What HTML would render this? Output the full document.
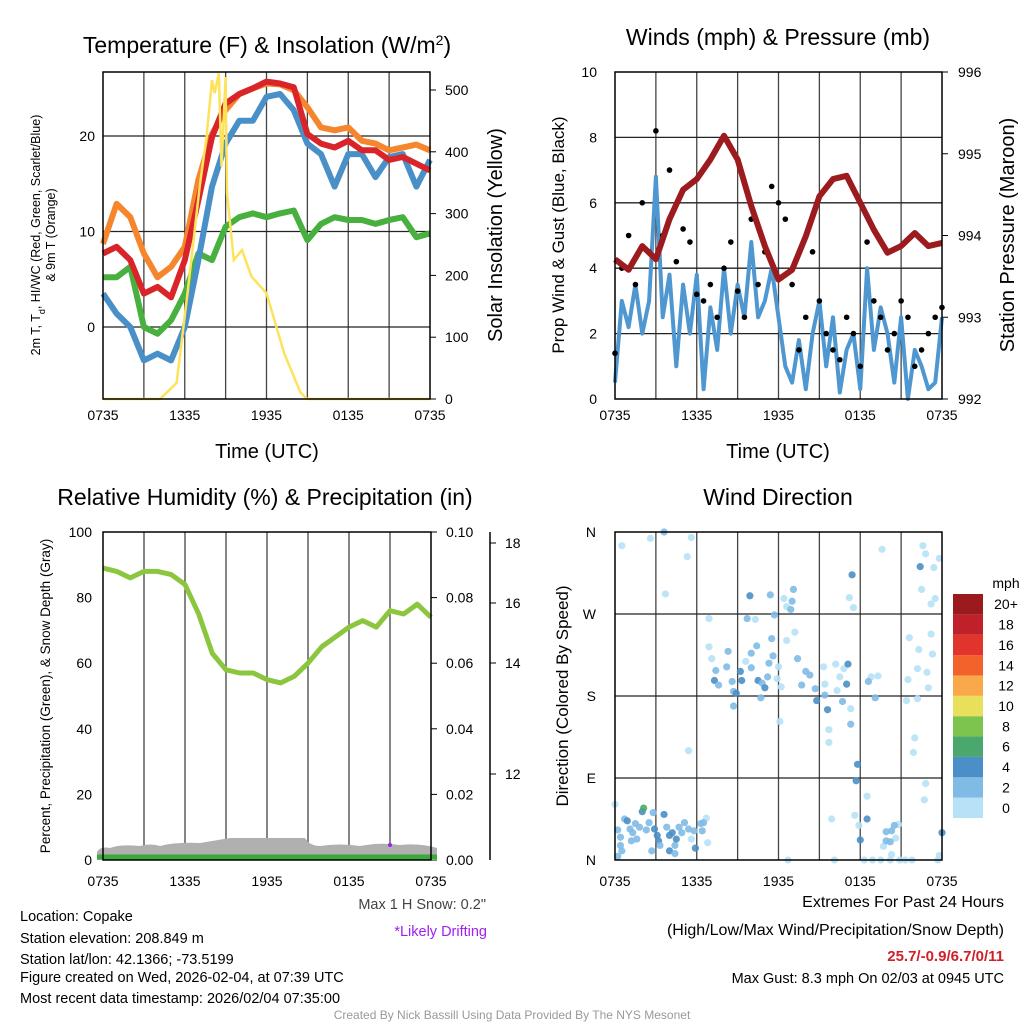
<!DOCTYPE html>
<html><head><meta charset="utf-8"><style>
body{margin:0;background:#fff}
svg{display:block;font-family:"Liberation Sans",Arial,sans-serif}
</style></head><body>
<svg id="c" width="1024" height="1024" viewBox="0 0 1024 1024"></svg>
<script>
// ---------- data ----------
const hours = [0,1,2,3,4,5,6,7,8,9,10,11,12,13,14,15,16,17,18,19,20,21,22,23,24];
const tempRed = [7.7,8.4,7.0,3.5,4.2,3.1,7.0,13.3,19.9,23.4,24.4,25.0,25.7,25.5,25.1,20.2,19.2,18.8,19.5,18.5,18.5,17.5,17.8,17.1,16.4];
const tempOrange = [8.7,12.9,11.5,7.7,5.2,6.3,8.4,15.4,20.2,22.7,24.4,25.0,25.5,25.4,24.8,23.0,20.9,20.6,20.9,19.5,19.2,18.5,18.8,19.1,18.5];
const tempBlue = [3.5,1.4,0,-3.5,-2.8,-3.5,0,7.0,14.7,19.2,21.6,21.6,24.1,24.4,22.7,19.2,18.1,14.7,18.1,18.1,15.7,17.8,18.1,14.7,17.5];
const tempGreen = [5.2,5.2,6.3,0,-0.7,0.7,3.5,7.7,7.0,10.5,11.5,11.9,11.5,11.9,12.2,9.1,10.8,11.5,11.2,11.2,10.8,11.2,11.5,9.4,9.8];
const solarHours = [0,4.2,5.4,6.2,7.1,7.6,8.0,8.2,8.5,8.7,9.0,9.1,9.6,10.2,10.9,12.0,13.3,14.5,15.0,24];
const solarVals = [0,0,26,171,344,425,516,495,527,376,521,333,225,241,198,171,74,10,0,0];
const halfHours = [0,0.5,1,1.5,2,2.5,3,3.5,4,4.5,5,5.5,6,6.5,7,7.5,8,8.5,9,9.5,10,10.5,11,11.5,12,12.5,13,13.5,14,14.5,15,15.5,16,16.5,17,17.5,18,18.5,19,19.5,20,20.5,21,21.5,22,22.5,23,23.5,24];
const windSpeed = [0.5,3.0,2.2,3.5,2.0,3.0,6.8,2.5,3.8,1.0,3.5,2.0,3.8,0.3,2.8,1.5,4.0,2.0,3.5,2.5,4.8,2.5,3.0,4.0,2.5,1.0,0.5,1.8,0.3,2.0,3.0,1.0,2.5,0.2,1.5,2.0,0.3,4.0,1.5,2.8,2.0,0.5,2.5,0.0,1.5,1.0,0.3,0.5,2.5];
const windGust = [1.4,4.0,5.0,3.5,6.0,4.5,8.2,5.0,7.0,4.2,5.2,4.8,3.2,3.0,3.5,2.5,4.0,4.8,3.3,2.5,5.5,3.5,4.5,6.5,6.0,5.5,3.5,1.5,2.5,4.5,3.0,2.0,1.5,1.2,2.5,2.0,1.0,4.8,3.0,2.5,1.5,2.0,3.0,2.5,1.0,1.5,2.0,2.5,2.8];
const pressure = [993.71,993.58,993.87,993.71,994.2,994.56,994.69,994.93,995.22,994.93,994.36,993.87,993.46,993.58,993.99,994.48,994.69,994.73,994.4,994.07,993.79,993.87,994.03,993.87,993.91];
const rh = [89,88,86,88,88,87,84,75,63,58,57,57,55,54,56,60,65,68,71,73,71,76,75,78,74];
const dirHours = [0.5,2.6,3.6,5.6,5.3,3.7,5.4,6.9,6.9,7.1,0,6.7,6.8,5.6,12.4,12.6,10.3,13.2,12.6,12.0,11.9,12.2,9.6,12.1,12.7,16.1,15.3,15.4,16.2,16.5,16.8,16.3,17.3,15.7,15.7,15.9,17.6,17.9,18.5,19.6,17.2,17.5,18.8,19.3,18.3,18.9,19.5,20.2,20.3,19.7,20.6,20.8,20.9,21.3,21.8,22.6,22.8,23.8,23.4,22.5,23.5,23.2,21.6,23.2,22.3,23.3,22.2,22.9,21.5,23.0,21.4,22.2,22.0,21.9,22.8,22.7,23.7,23.8,
9.7,9.9,11.4,11.7,13.0,13.1,12.9,11.5,10.4,10.0,10.0,11.3,11.6,8.3,7.4,7.3,7.6,8.2,8.6,8.7,8.9,9.2,9.3,10.5,10.8,11.0,10.7,11.2,8.7,13.4,14.0,14.3,14.7,13.7,14.8,15.4,15.6,16.7,17.1,17.0,17.3,17.4,17.8,17.7,18.6,19.1,18.5,18.0,19.9,20.3,20.5,19.9,20.2,22.4,24.0,
0.2,0.4,0.4,0.5,0.2,0.7,0.9,1.1,1.3,1.5,1.6,1.8,2.0,2.1,2.3,2.5,2.8,2.9,3.1,3.2,3.3,2.7,3.6,3.8,4.0,4.2,4.0,4.4,4.5,4.7,4.9,5.1,5.4,5.8,5.9,6.3,6.4,6.5,4.4,1.2];
const dirDegrees = [345,353,360,354,333,292,120,265,234,221,61,46,19,23,287,278,264,250,241,212,199,190,218,152,0,0,212,193,215,201,210,186,166,143,129,45,49,38,70,341,288,277,201,202,0,0,0,0,6,15,24,39,0,0,0,345,336,331,321,297,287,281,244,248,231,226,210,206,198,189,175,177,134,118,84,66,0,5,
265,290,291,269,284,297,275,243,235,227,211,216,224,229,208,197,192,212,196,185,183,207,197,197,194,189,178,201,169,221,207,203,188,192,175,181,165,174,215,193,149,313,105,87,196,178,45,22,31,32,38,21,20,322,30,
33,25,16,10,4,45,43,34,30,40,23,36,53,57,33,41,52,34,27,21,16,10,50,36,27,30,10,16,23,36,30,41,34,32,13,40,32,41,7,21];
const dirSpeeds = [1,1,3,1,1,1,1,1,1,1,1,1,1,1,1,1,1,1,1,1,1,1,1,1,1,1,1,1,1,1,1,1,1,1,1,1,1,1,1,1,1,1,1,1,1,1,1,1,1,1,1,1,1,1,1,1,1,1,1,1,1,1,1,1,1,1,1,1,1,1,1,1,1,1,1,1,1,1,
3,5,3,3,3,3,3,3,3,3,3,3,3,3,3,5,3,3,3,3,5,5,5,5,3,5,3,3,3,3,3,3,3,3,5,3,5,3,5,5,3,5,5,5,3,3,5,5,3,3,3,3,3,5,5,
3,3,3,3,3,3,5,3,3,3,3,3,5,7,3,3,3,5,5,5,3,3,5,3,5,5,5,3,5,3,3,3,3,3,5,3,3,3,3,3];
const speedBins = ['0','2','4','6','8','10','12','14','16','18','20+'];
const speedColors = ['#b7e1f7','#7fbbe5','#4a8fc7','#4aa86e','#7cc44e','#e8e05a','#f9a84a','#f2622b','#e0342c','#c0202a','#9b1a1d'];

// ---------- helpers ----------
const svg = document.getElementById('c');
const NS = 'http://www.w3.org/2000/svg';
function mk(tag, attrs, parent){const e=document.createElementNS(NS,tag);for(const k in attrs)e.setAttribute(k,attrs[k]);(parent||svg).appendChild(e);return e;}
function txt(s,x,y,size,anchor,extra){const t=mk('text',Object.assign({x:x,y:y,'font-size':size,'text-anchor':anchor||'middle',fill:'#000'},extra||{}));t.textContent=s;return t;}
function scale(d0,d1,r0,r1){return v=>r0+(v-d0)*(r1-r0)/(d1-d0);}
function linePath(xs,ys,fx,fy){return xs.map((x,i)=>(i?'L':'M')+fx(x).toFixed(1)+','+fy(ys[i]).toFixed(1)).join('');}
function frame(x0,y0,x1,y1,name){
  const g=mk('g',{});
  
  
  for(let h=3;h<24;h+=3){const x=x0+(x1-x0)*h/24;mk('line',{x1:x,y1:y0,x2:x,y2:y1,stroke:'#444','stroke-width':1.3},g);}
  return g;
}
function box(x0,y0,x1,y1,name){const r=mk('rect',{x:x0,y:y0,width:x1-x0,height:y1-y0,fill:'none',stroke:'#000','stroke-width':1.5});}
function hgrid(y,x0,x1){mk('line',{x1:x0,y1:y,x2:x1,y2:y,stroke:'#222','stroke-width':1.3});}
function xlabels(x0,x1,y){['0735','1335','1935','0135','0735'].forEach((s,i)=>{const t=txt(s,x0+(x1-x0)*i/4,y,14);});}

// ---------- panel 1: temperature ----------
(function(){
  const X0=103,X1=430,Y0=72,Y1=399;
  const fx=scale(0,24,X0,X1), fy=scale(0,10,327,231.5), fs=scale(0,500,399,90);
  frame(X0,Y0,X1,Y1,'temperature');
  [0,10,20].forEach(v=>{hgrid(fy(v),X0,X1);const t=txt(String(v),95,fy(v)+5,14,'end');});
  [0,100,200,300,400,500].forEach(v=>{mk('line',{x1:X1,y1:fs(v),x2:X1+6,y2:fs(v),stroke:'#000'});const t=txt(String(v),445,fs(v)+5,14,'start');});
  const series=[['temp-orange-9m',tempOrange,'#f5862e'],['temp-green-dewpoint',tempGreen,'#47b03f'],['temp-blue-windchill',tempBlue,'#4a90c8'],['temp-red-2m',tempRed,'#d9252a']];
  series.forEach(s=>{const p=mk('path',{d:linePath(hours,s[1],fx,fy),fill:'none',stroke:s[2],'stroke-width':6,'stroke-linejoin':'round'});});
  const sp=mk('path',{d:linePath(solarHours,solarVals,fx,fs),fill:'none',stroke:'#fde35c','stroke-width':2.5});
  
  box(X0,Y0,X1,Y1,'temperature');
  xlabels(X0,X1,420);
  let t=txt('Time (UTC)',267,458,20);
  t=mk('text',{x:267,y:53,'font-size':23,'text-anchor':'middle'});t.innerHTML='Temperature (F) &amp; Insolation (W/m<tspan baseline-shift="super" font-size="14">2</tspan>)';
  
  t=mk('text',{transform:'translate(40,235) rotate(-90)','font-size':12.5,'text-anchor':'middle'});t.innerHTML='2m T, T<tspan baseline-shift="sub" font-size="9">d</tspan>, HI/WC (Red, Green, Scarlet/Blue)';
  
  t=mk('text',{transform:'translate(55,235) rotate(-90)','font-size':12.5,'text-anchor':'middle'});t.textContent='& 9m T (Orange)';
  
  t=mk('text',{transform:'translate(502,235) rotate(-90)','font-size':20,'text-anchor':'middle'});t.textContent='Solar Insolation (Yellow)';
  
})();

// ---------- panel 2: winds ----------
(function(){
  const X0=615,X1=942,Y0=72,Y1=399;
  const fx=scale(0,24,X0,X1), fy=scale(0,10,Y1,Y0), fp=scale(992,996,Y1,Y0);
  frame(X0,Y0,X1,Y1,'winds');
  [0,2,4,6,8,10].forEach(v=>{if(v>0&&v<10)hgrid(fy(v),X0,X1);const t=txt(String(v),597,fy(v)+5,14,'end');});
  [992,993,994,995,996].forEach(v=>{mk('line',{x1:X1,y1:fp(v),x2:X1+6,y2:fp(v),stroke:'#000'});const t=txt(String(v),958,fp(v)+5,14,'start');});
  const wp=mk('path',{d:linePath(halfHours,windSpeed,fx,fy),fill:'none',stroke:'#4f97d0','stroke-width':4,'stroke-linejoin':'round'});
  
  halfHours.forEach((h,i)=>{const c=mk('circle',{cx:fx(h),cy:fy(windGust[i]),r:2.8,fill:'#000'});});
  const pp=mk('path',{d:linePath(hours,pressure,fx,fp),fill:'none',stroke:'#9b1b1f','stroke-width':6,'stroke-linejoin':'round'});
  
  box(X0,Y0,X1,Y1,'winds');
  xlabels(X0,X1,420);
  let t=txt('Time (UTC)',778,458,20);
  t=txt('Winds (mph) & Pressure (mb)',778,45,23);
  t=mk('text',{transform:'translate(564,235) rotate(-90)','font-size':17,'text-anchor':'middle'});t.textContent='Prop Wind & Gust (Blue, Black)';
  
  t=mk('text',{transform:'translate(1014,235) rotate(-90)','font-size':20,'text-anchor':'middle'});t.textContent='Station Pressure (Maroon)';
  
})();

// ---------- panel 3: RH ----------
(function(){
  const X0=103,X1=431,Y0=532,Y1=860;
  const fx=scale(0,24,X0,X1), fy=scale(0,100,Y1,Y0);
  frame(X0,Y0,X1,Y1,'humidity');
  [0,20,40,60,80,100].forEach(v=>{const t=txt(String(v),92,fy(v)+5,14,'end');});
  ['0.00','0.02','0.04','0.06','0.08','0.10'].forEach((s,i)=>{const y=fy(i*20);mk('line',{x1:X1,y1:y,x2:X1+6,y2:y,stroke:'#000'});const t=txt(s,446,y+5,14,'start');});
  mk('line',{x1:490,y1:532,x2:490,y2:860,stroke:'#000','stroke-width':1.5});
  [['18',543],['16',603],['14',663],['12',774]].forEach(a=>{mk('line',{x1:490,y1:a[1],x2:496,y2:a[1],stroke:'#000'});const t=txt(a[0],505,a[1]+5,14,'start');});
  const sn=mk('path',{d:'M97,860 L97,852 Q100,846 110,848 Q120,844 140,846 Q150,843 160,846 Q175,842 200,843 L230,838 L305,838 Q310,846 320,846 Q340,843 360,846 Q380,842 400,845 Q420,843 437,848 L437,860 Z',fill:'#b0b0b0'});
  
  const pr=mk('line',{x1:97,y1:857,x2:437,y2:857,stroke:'#3aa83a','stroke-width':5});
  
  const rp=mk('path',{d:linePath(hours,rh,fx,fy),fill:'none',stroke:'#8cc63f','stroke-width':5,'stroke-linejoin':'round'});
  
  const pd=mk('circle',{cx:390,cy:845,r:2,fill:'#a020f0'});
  box(X0,Y0,X1,Y1,'humidity');
  xlabels(X0,X1,886);
  let t=txt('Relative Humidity (%) & Precipitation (in)',265,505,23);
  t=mk('text',{transform:'translate(50,696) rotate(-90)','font-size':13.5,'text-anchor':'middle'});t.textContent='Percent, Precipitation (Green), & Snow Depth (Gray)';
  
})();

// ---------- panel 4: wind direction ----------
(function(){
  const X0=615,X1=942,Y0=532,Y1=860;
  const fx=scale(0,24,X0,X1), fy=scale(0,360,Y1,Y0);
  frame(X0,Y0,X1,Y1,'wind-direction');
  [['N',0],['E',90],['S',180],['W',270],['N',360]].forEach(a=>{if(a[1]>0&&a[1]<360)hgrid(fy(a[1]),X0,X1);const t=txt(a[0],596,fy(a[1])+5,14,'end');});
  dirHours.forEach((h,i)=>{const bin=Math.min(10,Math.floor(dirSpeeds[i]/2));const c=mk('circle',{cx:fx(h),cy:fy(dirDegrees[i]),r:3.6,fill:speedColors[bin],'fill-opacity':0.9});});
  box(X0,Y0,X1,Y1,'wind-direction');
  xlabels(X0,X1,886);
  let t=txt('Wind Direction',778,505,23);
  t=mk('text',{transform:'translate(568,696) rotate(-90)','font-size':17,'text-anchor':'middle'});t.textContent='Direction (Colored By Speed)';
  
  // colorbar
  const h=(818-594)/11;
  t=txt('mph',1006,588,14);
  for(let i=0;i<11;i++){const y=818-(i+1)*h;const r=mk('rect',{x:953,y:y,width:30,height:h,fill:speedColors[i]});
    const l=txt(speedBins[i],1006,y+h/2+5,14);}
})();

// ---------- text blocks ----------
[['Location: Copake',921],['Station elevation: 208.849 m',943],['Station lat/lon: 42.1366; -73.5199',964],['Figure created on Wed, 2026-02-04, at 07:39 UTC',982],['Most recent data timestamp: 2026/02/04 07:35:00',1003]].forEach(a=>{const t=txt(a[0],20,a[1],14.5,'start');});
let t=txt('Max 1 H Snow: 0.2"',486,909,14.5,'end',{fill:'#444'});
t=txt('*Likely Drifting',487,936,14.5,'end',{fill:'#a020f0'});
t=txt('Extremes For Past 24 Hours',1004,907,16,'end');
t=txt('(High/Low/Max Wind/Precipitation/Snow Depth)',1004,935,16,'end');
t=txt('25.7/-0.9/6.7/0/11',1004,961,15,'end',{fill:'#d0202a','font-weight':'bold'});
t=txt('Max Gust: 8.3 mph On 02/03 at 0945 UTC',1004,983,14.5,'end');
t=txt('Created By Nick Bassill Using Data Provided By The NYS Mesonet',512,1019,12,'middle',{fill:'#999'});
</script>
</body></html>
